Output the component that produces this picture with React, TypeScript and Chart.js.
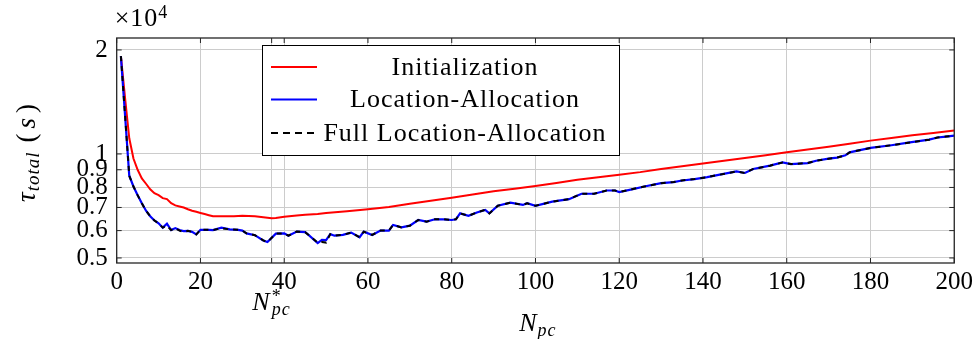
import { useEffect, useRef } from "react";
import { Chart, registerables } from "chart.js";

Chart.register(...registerables);

const FONT = "'Liberation Serif', 'Times New Roman', serif";

// Initialization (red)
const initN = [1, 2, 3, 4, 5, 6, 7, 8, 9, 10, 11, 12, 13, 14, 15, 16, 17, 18, 19, 20, 21, 22, 23, 25, 28, 30, 33, 35, 37, 38, 40, 43, 45, 48, 50, 55, 60, 65, 70, 75, 80, 85, 90, 95, 100, 105, 110, 115, 120, 125, 130, 135, 140, 145, 150, 155, 160, 165, 170, 175, 180, 185, 190, 195, 200];
const initVals = [19200, 14500, 11100, 9700, 9000, 8500, 8200, 7900, 7700, 7600, 7450, 7400, 7200, 7100, 7050, 7000, 6920, 6850, 6800, 6750, 6700, 6650, 6600, 6600, 6600, 6620, 6600, 6560, 6520, 6530, 6580, 6640, 6670, 6700, 6750, 6830, 6920, 7020, 7180, 7320, 7470, 7630, 7800, 7930, 8080, 8240, 8420, 8560, 8710, 8860, 9050, 9220, 9390, 9560, 9740, 9920, 10110, 10300, 10500, 10700, 10930, 11130, 11330, 11500, 11690];

// Location-Allocation (blue)
const laN = [1, 2, 3, 4, 5, 6, 7, 8, 9, 10, 11, 12, 13, 14, 15, 16, 17, 18, 19, 20, 22, 23, 25, 27, 29, 30, 31, 33, 35, 36, 38, 40, 41, 43, 45, 46, 48, 49, 50, 51, 52, 54, 56, 58, 59, 61, 63, 65, 66, 68, 70, 72, 74, 76, 78, 80, 81, 82, 84, 86, 88, 89, 91, 94, 97, 98, 100, 104, 108, 111, 114, 117, 119, 120, 123, 126, 130, 133, 135, 138, 141, 144, 148, 150, 152, 156, 159, 161, 165, 167, 170, 172, 174, 175, 180, 185, 189, 194, 196, 198, 200];
const laVals = [19200, 12900, 8650, 8050, 7600, 7200, 6850, 6600, 6420, 6300, 6120, 6280, 6020, 6100, 6020, 5980, 5990, 5950, 5850, 6030, 6030, 6020, 6120, 6050, 6030, 6000, 5890, 5820, 5620, 5560, 5880, 5890, 5800, 5960, 5940, 5800, 5520, 5640, 5630, 5860, 5800, 5830, 5920, 5740, 5960, 5830, 6000, 6000, 6230, 6130, 6200, 6440, 6370, 6470, 6470, 6440, 6470, 6730, 6620, 6770, 6890, 6730, 7080, 7230, 7120, 7200, 7080, 7280, 7400, 7670, 7670, 7840, 7840, 7760, 7900, 8050, 8230, 8290, 8380, 8460, 8570, 8710, 8900, 8810, 9050, 9250, 9450, 9350, 9410, 9560, 9690, 9760, 9910, 10110, 10410, 10600, 10780, 11000, 11160, 11230, 11300];

// Full Location-Allocation (black dashed)
const fullN = [1, 2, 3, 4, 5, 6, 7, 8, 9, 10, 11, 12, 13, 14, 15, 16, 17, 18, 19, 20, 22, 23, 25, 27, 29, 30, 31, 33, 35, 36, 38, 40, 41, 43, 45, 46, 48, 49, 50, 51, 52, 54, 56, 58, 59, 61, 63, 65, 66, 68, 70, 72, 74, 76, 78, 80, 81, 82, 84, 86, 88, 89, 91, 94, 97, 98, 100, 104, 108, 111, 114, 117, 119, 120, 123, 126, 130, 133, 135, 138, 141, 144, 148, 150, 152, 156, 159, 161, 165, 167, 170, 172, 174, 175, 180, 185, 189, 194, 196, 198, 200];
const fullVals = [19200, 12900, 8650, 8050, 7600, 7200, 6850, 6600, 6420, 6300, 6120, 6200, 6020, 6100, 6000, 5950, 5990, 5950, 5850, 6030, 6030, 6020, 6100, 6050, 6030, 6000, 5890, 5820, 5620, 5560, 5880, 5890, 5800, 5960, 5940, 5800, 5540, 5560, 5540, 5860, 5800, 5830, 5920, 5740, 5960, 5830, 6000, 6000, 6230, 6130, 6200, 6440, 6370, 6470, 6470, 6440, 6470, 6730, 6620, 6770, 6890, 6730, 7080, 7230, 7120, 7200, 7080, 7280, 7400, 7670, 7670, 7840, 7840, 7760, 7900, 8050, 8230, 8290, 8380, 8460, 8570, 8710, 8900, 8810, 9050, 9250, 9450, 9350, 9410, 9560, 9690, 9760, 9910, 10110, 10410, 10600, 10780, 11000, 11160, 11230, 11300];

const yTickValues = [5000, 6000, 7000, 8000, 9000, 10000, 20000];
const yTickLabels = ["0.5", "0.6", "0.7", "0.8", "0.9", "1", "2"];
const xTickValues = [0, 20, 40, 60, 80, 100, 120, 140, 160, 180, 200];
const nStar = 37;
const legendLabels = ["Initialization", "Location-Allocation", "Full Location-Allocation"];
const seriesColors = ["#ff0000", "#0000ff", "#000000"];

function drawPieces(ctx: CanvasRenderingContext2D, pieces: { t: string; f: string; dy: number; gap?: number }[], x: number, y: number, align: "left" | "center") {
  let total = 0;
  for (const p of pieces) {
    ctx.font = p.f;
    total += ctx.measureText(p.t).width + (p.gap || 0);
  }
  let cx = align === "center" ? x - total / 2 : x;
  ctx.textAlign = "left";
  ctx.textBaseline = "alphabetic";
  for (const p of pieces) {
    ctx.font = p.f;
    ctx.fillText(p.t, cx, y + p.dy);
    cx += ctx.measureText(p.t).width + (p.gap || 0);
  }
}

const decorPlugin = {
  id: "decor",
  afterDraw(chart: any) {
    const ctx: any = chart.ctx;
    const { left, right, top, bottom } = chart.chartArea;
    const xs = chart.scales.x;
    const ys = chart.scales.y;
    ctx.save();
    // axis box
    ctx.strokeStyle = "#262626";
    ctx.lineWidth = 1.3;
    ctx.strokeRect(left, top, right - left, bottom - top);
    // inner tick marks
    ctx.lineWidth = 1;
    ctx.beginPath();
    for (const v of yTickValues) {
      const py = ys.getPixelForValue(v);
      ctx.moveTo(left, py);
      ctx.lineTo(left + 5, py);
      ctx.moveTo(right, py);
      ctx.lineTo(right - 5, py);
    }
    for (const v of [...xTickValues, nStar]) {
      const px = xs.getPixelForValue(v);
      ctx.moveTo(px, bottom);
      ctx.lineTo(px, bottom - 5);
      ctx.moveTo(px, top);
      ctx.lineTo(px, top + 5);
    }
    ctx.stroke();

    ctx.fillStyle = "#000";
    ctx.letterSpacing = "1px";
    // x10^4
    drawPieces(ctx, [
      { t: "×10", f: `26px ${FONT}`, dy: 0 },
      { t: "4", f: `18px ${FONT}`, dy: -8 },
    ], left - 2, 26, "left");

    // N*_pc under the N* tick
    const sx = xs.getPixelForValue(nStar);
    ctx.textAlign = "left";
    ctx.font = `italic 26px ${FONT}`;
    const nw = ctx.measureText("N").width;
    ctx.fillText("N", sx - nw - 1, 310);
    ctx.font = `18px ${FONT}`;
    ctx.fillText("*", sx, 302);
    ctx.font = `italic 18px ${FONT}`;
    ctx.fillText("pc", sx, 315);

    // x title N_pc
    const cxm = (left + right) / 2;
    ctx.font = `italic 26px ${FONT}`;
    const nw2 = ctx.measureText("N").width;
    ctx.fillText("N", cxm - nw2 + 2, 331);
    ctx.font = `italic 18px ${FONT}`;
    ctx.fillText("pc", cxm + 2, 336);

    // y title
    ctx.save();
    ctx.translate(35, (top + bottom) / 2 + 2);
    ctx.rotate(-Math.PI / 2);
    drawPieces(ctx, [
      { t: "τ", f: `italic 27px ${FONT}`, dy: 0 },
      { t: "total", f: `italic 19px ${FONT}`, dy: 4, gap: 9 },
      { t: "(", f: `27px ${FONT}`, dy: 0, gap: 4 },
      { t: "s", f: `italic 27px ${FONT}`, dy: 0, gap: 4 },
      { t: ")", f: `27px ${FONT}`, dy: 0 },
    ], 0, 0, "center");
    ctx.restore();

    // legend
    const lx0 = 262, ly0 = 45, lx1 = 619, ly1 = 155;
    ctx.fillStyle = "#fff";
    ctx.fillRect(lx0, ly0, lx1 - lx0, ly1 - ly0);
    ctx.strokeStyle = "#000";
    ctx.lineWidth = 1;
    ctx.strokeRect(lx0 + 0.5, ly0 + 0.5, lx1 - lx0, ly1 - ly0);
    const rows = [67, 99.5, 133];
    rows.forEach((ry, i) => {
      ctx.strokeStyle = seriesColors[i];
      ctx.lineWidth = 2;
      ctx.setLineDash(i === 2 ? [7, 5] : []);
      ctx.beginPath();
      ctx.moveTo(271, ry);
      ctx.lineTo(317, ry);
      ctx.stroke();
      ctx.setLineDash([]);
      ctx.fillStyle = "#000";
      ctx.font = `26px ${FONT}`;
      ctx.textAlign = "center";
      ctx.textBaseline = "middle";
      ctx.fillText(legendLabels[i], 465, ry + 1);
    });
    ctx.letterSpacing = "0px";
    ctx.restore();
  },
};

export default function App() {
  const ref = useRef<HTMLCanvasElement | null>(null);
  useEffect(() => {
    if (!ref.current) return;
    const mk = (ns: number[], vs: number[]) => ns.map((n, i) => ({ x: n, y: vs[i] }));
    const chart = new Chart(ref.current, {
      type: "line",
      data: {
        datasets: [
          { label: legendLabels[0], data: mk(initN, initVals), borderColor: seriesColors[0], borderWidth: 2, pointRadius: 0, order: 2 },
          { label: legendLabels[1], data: mk(laN, laVals), borderColor: seriesColors[1], borderWidth: 2.2, pointRadius: 0, order: 1 },
          { label: legendLabels[2], data: mk(fullN, fullVals), borderColor: seriesColors[2], borderWidth: 2, borderDash: [5, 5], pointRadius: 0, order: 0 },
        ],
      },
      options: {
        animation: false,
        responsive: true,
        maintainAspectRatio: false,
        layout: { padding: { top: 38, right: 20.5, left: 0, bottom: 0 } },
        plugins: { legend: { display: false }, tooltip: { enabled: false } },
        scales: {
          x: {
            type: "linear",
            min: 0,
            max: 200,
            afterBuildTicks: (s: any) => {
              s.ticks = [...xTickValues, nStar].sort((a, b) => a - b).map((v) => ({ value: v }));
            },
            afterFit: (s: any) => { s.height = 76; },
            ticks: {
              autoSkip: false,
              maxRotation: 0,
              padding: 4,
              color: "#000",
              font: { family: FONT, size: 25 },
              callback: (v: any) => (v === nStar ? "" : String(v)),
            },
            grid: { color: "#cccccc", lineWidth: 1, drawTicks: false },
            border: { display: false },
          },
          y: {
            type: "logarithmic",
            min: 4835,
            max: 21660,
            afterBuildTicks: (s: any) => {
              s.ticks = yTickValues.map((v) => ({ value: v }));
            },
            afterFit: (s: any) => { s.width = 116.7; },
            ticks: {
              autoSkip: false,
              padding: 9,
              color: "#000",
              font: { family: FONT, size: 25 },
              callback: (v: any) => {
                const i = yTickValues.indexOf(Number(v));
                return i >= 0 ? yTickLabels[i] : "";
              },
            },
            grid: { color: "#cccccc", lineWidth: 1, drawTicks: false },
            border: { display: false },
          },
        },
      },
      plugins: [decorPlugin],
    } as any);
    return () => chart.destroy();
  }, []);
  return (
    <div style={{ position: "fixed", left: 0, top: 0, width: 977, height: 339, background: "#fff" }}>
      <canvas ref={ref} />
    </div>
  );
}
